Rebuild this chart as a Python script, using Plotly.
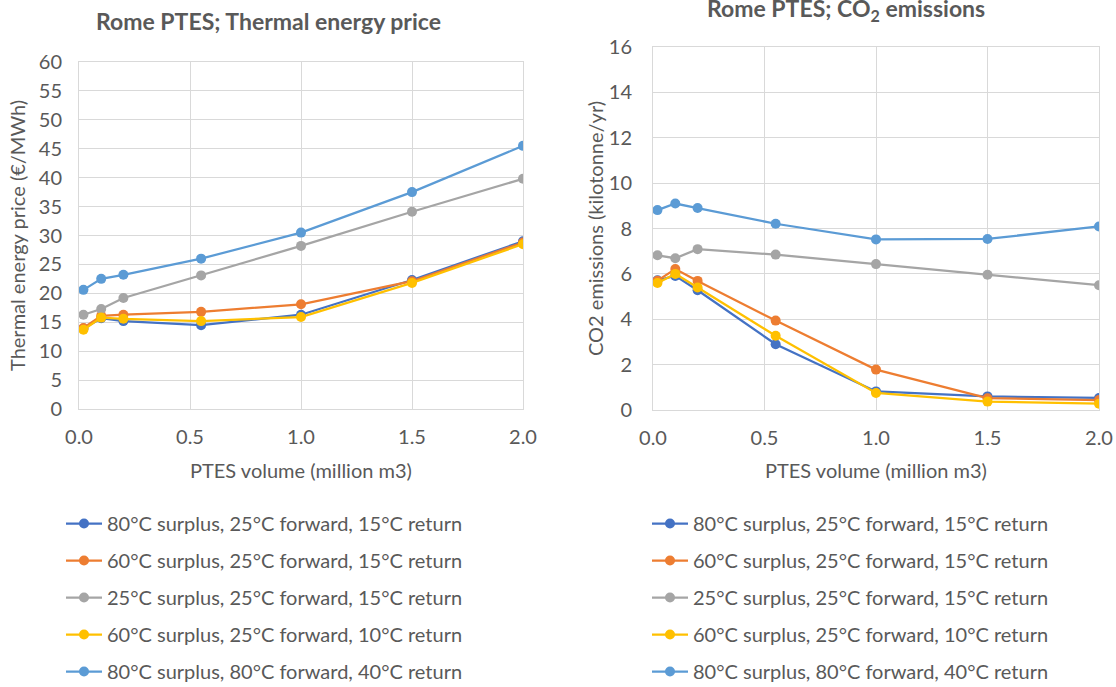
import plotly.graph_objects as go

# ---------------- data ----------------
volume = [0.02, 0.1, 0.2, 0.55, 1.0, 1.5, 2.0]

series_names = [
    "80°C surplus, 25°C forward, 15°C return",
    "60°C surplus, 25°C forward, 15°C return",
    "25°C surplus, 25°C forward, 15°C return",
    "60°C surplus, 25°C forward, 10°C return",
    "80°C surplus, 80°C forward, 40°C return",
]
series_colors = ["#4472C4", "#ED7D31", "#A5A5A5", "#FFC000", "#5B9BD5"]

price_s1 = [13.9, 15.7, 15.2, 14.5, 16.3, 22.3, 29.0]
price_s2 = [14.0, 16.1, 16.3, 16.8, 18.1, 22.1, 28.8]
price_s3 = [16.3, 17.3, 19.2, 23.1, 28.2, 34.1, 39.8]
price_s4 = [13.7, 15.8, 15.6, 15.2, 15.9, 21.8, 28.5]
price_s5 = [20.6, 22.5, 23.2, 26.0, 30.5, 37.5, 45.5]

co2_s1 = [5.72, 5.91, 5.28, 2.90, 0.82, 0.60, 0.53]
co2_s2 = [5.70, 6.21, 5.69, 3.94, 1.78, 0.52, 0.44]
co2_s3 = [6.82, 6.69, 7.09, 6.85, 6.43, 5.96, 5.50]
co2_s4 = [5.60, 6.00, 5.40, 3.27, 0.75, 0.37, 0.28]
co2_s5 = [8.81, 9.10, 8.90, 8.21, 7.52, 7.54, 8.09]

price_series = [price_s1, price_s2, price_s3, price_s4, price_s5]
co2_series = [co2_s1, co2_s2, co2_s3, co2_s4, co2_s5]

x_ticks = [0.0, 0.5, 1.0, 1.5, 2.0]
price_ticks = list(range(0, 61, 5))
co2_ticks = list(range(0, 17, 2))

# ---------------- figure ----------------
W, H = 1116, 687
FONT = "Lato"
TXT = "#595959"
GRID = "#D9D9D9"
FS = 20

def px_x(p):
    return p / W

def px_y(p):
    return 1 - p / H

fig = go.Figure()

for i, (name, col) in enumerate(zip(series_names, series_colors)):
    fig.add_trace(go.Scatter(
        x=volume, y=price_series[i], name=name, mode="lines+markers",
        line=dict(color=col, width=2.25), marker=dict(color=col, size=10),
        xaxis="x", yaxis="y", legend="legend", legendgroup="L%d" % i,
    ))
for i, (name, col) in enumerate(zip(series_names, series_colors)):
    fig.add_trace(go.Scatter(
        x=volume, y=co2_series[i], name=name, mode="lines+markers",
        line=dict(color=col, width=2.25), marker=dict(color=col, size=10),
        xaxis="x2", yaxis="y2", legend="legend2", legendgroup="R%d" % i,
    ))

axis_common = dict(
    showgrid=True, gridcolor=GRID, gridwidth=1,
    showline=True, linecolor=GRID, linewidth=1, mirror=True,
    zeroline=False, ticks="",
    tickfont=dict(family=FONT, size=FS, color=TXT),
)

fig.update_layout(
    width=W, height=H,
    margin=dict(l=0, r=0, t=0, b=0, autoexpand=False),
    paper_bgcolor="white", plot_bgcolor="white",
    font=dict(family=FONT, color=TXT),
    xaxis=dict(domain=[px_x(79), px_x(523)], range=[0, 2], tickvals=x_ticks,
               tickformat=".1f", anchor="y", ticklabelstandoff=10, **axis_common),
    yaxis=dict(domain=[px_y(409), px_y(62)], range=[0, 60], tickvals=price_ticks,
               anchor="x", ticklabelstandoff=12, **axis_common),
    xaxis2=dict(domain=[px_x(653), px_x(1099)], range=[0, 2], tickvals=x_ticks,
                tickformat=".1f", anchor="y2", ticklabelstandoff=10, **axis_common),
    yaxis2=dict(domain=[px_y(410), px_y(47)], range=[0, 16], tickvals=co2_ticks,
                anchor="x2", ticklabelstandoff=16, **axis_common),
    legend=dict(x=px_x(61), y=px_y(504), xanchor="left", yanchor="top",
                font=dict(family=FONT, size=FS, color=TXT), tracegroupgap=8,
                bgcolor="rgba(0,0,0,0)", itemwidth=36),
    legend2=dict(x=px_x(647), y=px_y(504), xanchor="left", yanchor="top",
                 font=dict(family=FONT, size=FS, color=TXT), tracegroupgap=8,
                 bgcolor="rgba(0,0,0,0)", itemwidth=36),
    showlegend=True,
)

annotations = [
    dict(text="<b>Rome PTES; Thermal energy price</b>", x=px_x(268), y=px_y(21),
         font=dict(family=FONT, size=23, color=TXT)),
    dict(text="<b>Rome PTES; CO<sub>2</sub> emissions</b>", x=px_x(846), y=px_y(10),
         font=dict(family=FONT, size=23, color=TXT)),
    dict(text="Thermal energy price (€/MWh)", x=px_x(17), y=px_y(236), textangle=-90,
         font=dict(family=FONT, size=FS, color=TXT)),
    dict(text="CO2 emissions (kilotonne/yr)", x=px_x(595), y=px_y(229), textangle=-90,
         font=dict(family=FONT, size=FS, color=TXT)),
    dict(text="PTES volume (million m3)", x=px_x(301), y=px_y(470),
         font=dict(family=FONT, size=FS, color=TXT)),
    dict(text="PTES volume (million m3)", x=px_x(876), y=px_y(470),
         font=dict(family=FONT, size=FS, color=TXT)),
]
for a in annotations:
    a.update(xref="paper", yref="paper", showarrow=False, xanchor="center", yanchor="middle")
fig.update_layout(annotations=annotations)

fig.write_html(
    "out.html",
    config={"displayModeBar": False},
    post_script="document.body.style.margin='0';document.body.style.overflow='hidden';",
)
